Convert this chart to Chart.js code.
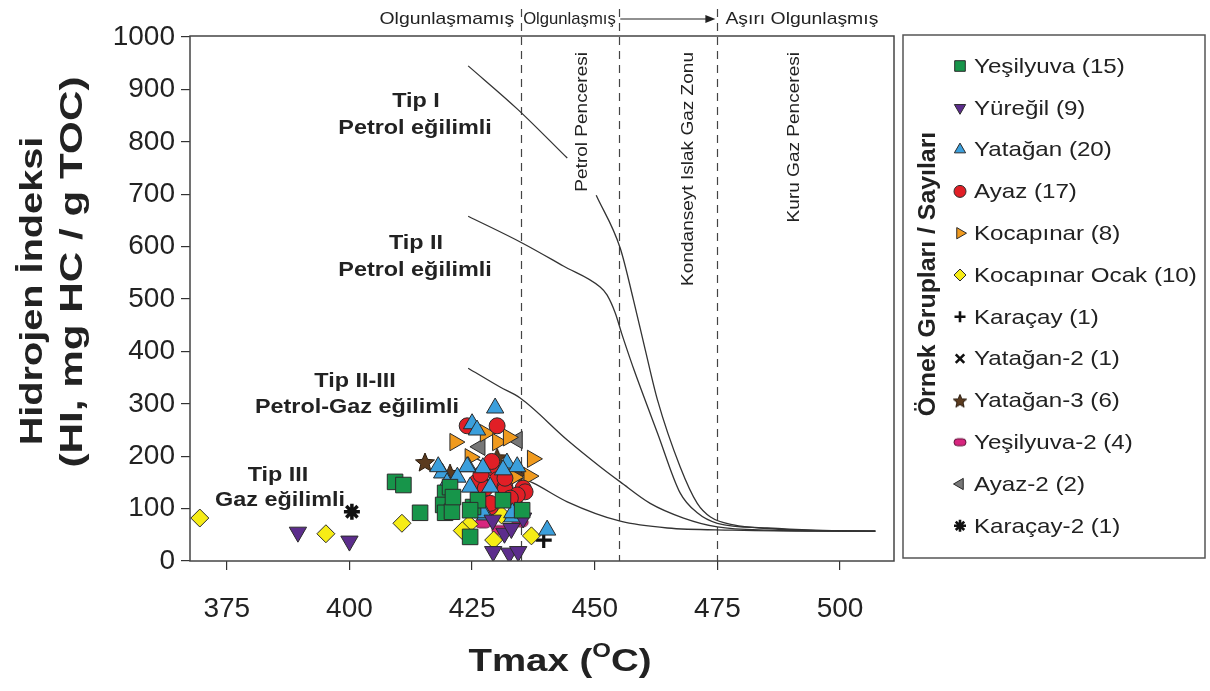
<!DOCTYPE html>
<html>
<head>
<meta charset="utf-8">
<script src="https://cdn.jsdelivr.net/npm/chart.js@4.4.1/dist/chart.umd.min.js"></script>
<style>
  html, body { margin: 0; padding: 0; background: #fff; }
  #wrap { width: 1210px; height: 691px; position: relative; }
</style>
</head>
<body>
<div id="wrap"><canvas id="hiChart"></canvas></div>
<script>
// ---- data ----
const xTicks = [375, 400, 425, 450, 475, 500];
const yTicks = [0, 100, 200, 300, 400, 500, 600, 700, 800, 900, 1000];
const zoneLines = [435, 455, 475];

const yesilyuvaTmax = [409.3, 411.0, 414.4, 419.5, 420.5, 419.1, 419.5, 420.9, 424.6, 425.2, 426.2, 421.1, 424.6, 431.3, 435.2];
const yesilyuvaHI   = [151, 145, 92, 130, 141, 107, 92, 94, 46, 103, 116, 122, 97, 116, 97];
const yuregilTmax = [389.5, 400.0, 429.3, 432.6, 434.4, 431.6, 435.4, 429.2, 433.0];
const yuregilHI   = [55, 38, 18, 15, 18, 53, 82, 78, 62];
const yataganTmax = [429.7, 425.0, 418.9, 418.1, 419.9, 424.2, 427.2, 424.6, 427.7, 432.1, 434.2, 433.2, 440.3, 426.0, 431.3, 428.7, 427.2, 433.2, 424.0, 422.0];
const yataganHI   = [292, 262, 168, 180, 149, 180, 178, 141, 88, 187, 180, 84, 59, 250, 174, 141, 92, 92, 180, 160];
const ayazTmax = [424.0, 430.1, 429.7, 430.1, 426.0, 431.7, 428.7, 431.7, 435.4, 428.7, 435.8, 431.7, 427.7, 434.2, 429.0, 432.8, 426.8];
const ayazHI   = [258, 258, 174, 155, 151, 141, 103, 136, 139, 110, 132, 158, 139, 126, 190, 120, 165];
const kocapinarTmax = [421.5, 424.6, 427.7, 430.2, 432.4, 437.3, 436.6, 433.5];
const kocapinarHI   = [227, 198, 244, 227, 236, 195, 162, 160];
const ocakTmax = [369.5, 395.2, 410.7, 424.4, 429.4, 433.4, 437.1, 427.5, 431.0, 423.0];
const ocakHI   = [82, 52, 72, 70, 40, 113, 48, 96, 88, 58];
const karacayTmax = [439.6];
const karacayHI   = [40];
const yatagan2Tmax = [430.5];
const yatagan2HI   = [148];
const yatagan3Tmax = [415.4, 420.5, 430.1, 427.2, 430.3, 434.2];
const yatagan3HI   = [189, 168, 198, 151, 151, 164];
const yesilyuva2Tmax = [426.6, 427.2, 430.7, 434.8];
const yesilyuva2HI   = [122, 72, 59, 74];
const ayaz2Tmax = [426.6, 434.2];
const ayaz2HI   = [218, 231];
const karacay2Tmax = [400.5];
const karacay2HI   = [94];

// kerogen type boundary curves (null = gap behind the label)
const typeITmax = [424.2, 434.3, 444.4, 447.0, 450.3, 455.2, 457.9, 460.3, 462.8, 467.4, 470.9, 473.6, 478.3, 485.0, 495.0, 507.2];
const typeIHI   = [945, 862, 769, null, 698, 597, 498, 403, 307, 180, 110, 84, 69, 62, 58, 57];
const typeIITmax = [424.2, 435.2, 443.6, 451.1, 452.5, 454.2, 455.5, 456.6, 458.0, 462.8, 467.4, 470.9, 475.0, 485.2, 495.0, 507.2];
const typeIIHI   = [658, 607, 563, 523, 508, 473, 434, 403, 365, 244, 130, 92, 72, 63, 59, 57];
const typeIIIIITmax = [424.2, 430.7, 434.8, 444.4, 451.1, 455.2, 461.3, 468.1, 475.0, 485.0, 507.2];
const typeIIIIIHI   = [368, 332, 311, 231, 180, 151, 110, 82, 65, 59, 57];
const typeIIITmax = [426.0, 431.0, 437.4, 444.4, 455.2, 464.8, 478.0, 495.0, 507.2];
const typeIIIHI   = [195, 172, 149, 113, 76, 63, 59, 57, 57];

const pts = (xs, ys) => xs.map((x, i) => ({ x: x, y: ys[i] }));

const FONT = '"Liberation Sans", Arial, Helvetica, sans-serif';
const EDGE = '#2b2b2b';
const INK = '#222';

// custom marker images
function starImage(r, fill) {
    const c = document.createElement('canvas');
    const s = Math.ceil(r * 2 + 4);
    c.width = s; c.height = s;
    const g = c.getContext('2d');
    g.beginPath();
    for (let i = 0; i < 10; i++) {
        const rr = i % 2 === 0 ? r : r * 0.45;
        const a = -Math.PI / 2 + i * Math.PI / 5;
        const px = s / 2 + rr * Math.cos(a), py = s / 2 + 1 + rr * Math.sin(a);
        if (i === 0) g.moveTo(px, py); else g.lineTo(px, py);
    }
    g.closePath();
    g.fillStyle = fill; g.fill();
    g.lineWidth = 1; g.strokeStyle = '#2a1c0e'; g.stroke();
    return c;
}
function pillImage(w, h, fill) {
    const c = document.createElement('canvas');
    c.width = w + 4; c.height = h + 4;
    const g = c.getContext('2d');
    g.beginPath();
    g.roundRect(2, 2, w, h, h / 2);
    g.fillStyle = fill; g.fill();
    g.lineWidth = 1; g.strokeStyle = '#5a1035'; g.stroke();
    return c;
}

const series = [
    { label: 'Yeşilyuva (15)', data: pts(yesilyuvaTmax, yesilyuvaHI), style: 'rect', color: '#17954a', r: 11, lr: 7.5, rot: 0 },
    { label: 'Yüreğil (9)', data: pts(yuregilTmax, yuregilHI), style: 'triangle', color: '#5c2d8c', r: 10, lr: 6.5, rot: 180 },
    { label: 'Yatağan (20)', data: pts(yataganTmax, yataganHI), style: 'triangle', color: '#3b9fdc', r: 10, lr: 6.5, rot: 0 },
    { label: 'Ayaz (17)', data: pts(ayazTmax, ayazHI), style: 'circle', color: '#e11f26', r: 8, lr: 6, rot: 0 },
    { label: 'Kocapınar (8)', data: pts(kocapinarTmax, kocapinarHI), style: 'triangle', color: '#f09a1e', r: 10, lr: 6.5, rot: 90 },
    { label: 'Kocapınar Ocak (10)', data: pts(ocakTmax, ocakHI), style: 'rectRot', color: '#f6ec16', r: 9, lr: 6, rot: 0 },
    { label: 'Karaçay (1)', data: pts(karacayTmax, karacayHI), style: 'cross', color: '#111', r: 8, lr: 5.5, rot: 0, bw: 3.2 },
    { label: 'Yatağan-2 (1)', data: pts(yatagan2Tmax, yatagan2HI), style: 'crossRot', color: '#111', r: 8, lr: 6, rot: 0, bw: 3.2 },
    { label: 'Yatağan-3 (6)', data: pts(yatagan3Tmax, yatagan3HI), style: starImage(10, '#5b3b1f'), legendStyle: starImage(7, '#5b3b1f'), color: '#5b3b1f', r: 10, lr: 7, rot: 0 },
    { label: 'Yeşilyuva-2 (4)', data: pts(yesilyuva2Tmax, yesilyuva2HI), style: pillImage(16, 9, '#d8257f'), legendStyle: pillImage(12, 7, '#d8257f'), color: '#d8257f', r: 9, lr: 6, rot: 0 },
    { label: 'Ayaz-2 (2)', data: pts(ayaz2Tmax, ayaz2HI), style: 'triangle', color: '#777', r: 10, lr: 6.5, rot: -90 },
    { label: 'Karaçay-2 (1)', data: pts(karacay2Tmax, karacay2HI), style: 'star', color: '#111', r: 8, lr: 6, rot: 0, bw: 3.5 }
];

const scatterSets = series.map(s => ({
    label: s.label,
    data: s.data,
    pointStyle: s.style,
    pointRadius: s.r,
    pointRotation: s.rot,
    backgroundColor: s.color,
    borderColor: s.bw ? s.color : EDGE,
    pointBorderWidth: s.bw || 1,
    showLine: false
}));

const curve = (xs, ys) => ({
    data: pts(xs, ys),
    showLine: true,
    borderColor: '#333',
    borderWidth: 1.3,
    pointRadius: 0,
    spanGaps: false,
    cubicInterpolationMode: 'monotone'
});
const curveSets = [
    curve(typeITmax, typeIHI),
    curve(typeIITmax, typeIIHI),
    curve(typeIIIIITmax, typeIIIIIHI),
    curve(typeIIITmax, typeIIIHI)
];

// the figure's lettering is a bit wider than Liberation Sans, so stretch it
function txt(ctx, s, x, y, font, align, sx, rot) {
    ctx.save();
    ctx.translate(x, y);
    if (rot) ctx.rotate(rot);
    ctx.scale(sx, 1);
    ctx.font = font;
    ctx.textAlign = align;
    ctx.textBaseline = 'middle';
    ctx.fillText(s, 0, 0);
    ctx.restore();
}

const decor = {
    id: 'decor',
    beforeDatasetsDraw(chart) {
        const { ctx, chartArea: a, scales: { x } } = chart;
        ctx.save();
        ctx.strokeStyle = '#444';
        ctx.lineWidth = 1.2;
        ctx.setLineDash([8, 6]);
        zoneLines.forEach(v => {
            const px = Math.round(x.getPixelForValue(v)) + 0.5;
            ctx.beginPath();
            ctx.moveTo(px, 9);
            ctx.lineTo(px, a.bottom);
            ctx.stroke();
        });
        ctx.restore();

        ctx.save();
        ctx.fillStyle = INK;
        const bold = 'bold 20px ' + FONT;
        [['Tip I', 416, 101], ['Petrol eğilimli', 415, 128],
         ['Tip II', 416, 243], ['Petrol eğilimli', 415, 270],
         ['Tip II-III', 355, 381], ['Petrol-Gaz eğilimli', 357, 407],
         ['Tip III', 278, 475], ['Gaz eğilimli', 280, 500]].forEach(t => txt(ctx, t[0], t[1], t[2], bold, 'center', 1.17));

        [['Petrol Penceresi', 582], ['Kondanseyt Islak Gaz Zonu', 688], ['Kuru Gaz Penceresi', 794]].forEach(t =>
            txt(ctx, t[0], t[1], 52, '17px ' + FONT, 'right', 1.12, -Math.PI / 2));
        ctx.restore();
    },
    afterDraw(chart) {
        const { ctx, chartArea: a, scales: { x } } = chart;
        ctx.save();
        ctx.strokeStyle = '#444';
        ctx.lineWidth = 1.5;
        ctx.strokeRect(a.left, a.top, a.right - a.left, a.bottom - a.top);

        // maturity labels on top
        ctx.fillStyle = INK;
        const reg = '17px ' + FONT;
        const l1 = x.getPixelForValue(435), l2 = x.getPixelForValue(455), l3 = x.getPixelForValue(475);
        txt(ctx, 'Olgunlaşmamış', l1 - 7, 19, reg, 'right', 1.14);
        txt(ctx, 'Olgunlaşmış', l1 + 2, 19, reg, 'left', 0.98);
        txt(ctx, 'Aşırı Olgunlaşmış', l3 + 8, 19, reg, 'left', 1.14);
        ctx.strokeStyle = INK;
        ctx.lineWidth = 1.2;
        ctx.beginPath();
        ctx.moveTo(l2 + 1, 19);
        ctx.lineTo(l3 - 10, 19);
        ctx.stroke();
        ctx.beginPath();
        ctx.moveTo(l3 - 2, 19);
        ctx.lineTo(l3 - 12, 15);
        ctx.lineTo(l3 - 12, 23);
        ctx.closePath();
        ctx.fill();

        // axis titles
        const ttl = 'bold 32px ' + FONT;
        txt(ctx, 'Hidrojen İndeksi', 33, 291, ttl, 'center', 1.24, -Math.PI / 2);
        txt(ctx, '(HI, mg HC / g TOC)', 73, 272, ttl, 'center', 1.32, -Math.PI / 2);

        const big = 'bold 32px ' + FONT, small = 'bold 20px ' + FONT, sx = 1.2;
        ctx.font = big;
        const w1 = ctx.measureText('Tmax (').width * sx, w3 = ctx.measureText('C)').width * sx;
        ctx.font = small;
        const w2 = ctx.measureText('O').width * sx;
        const x0 = 560 - (w1 + w2 + w3) / 2;
        txt(ctx, 'Tmax (', x0, 662, big, 'left', sx);
        txt(ctx, 'O', x0 + w1, 651, small, 'left', sx);
        txt(ctx, 'C)', x0 + w1 + w2, 662, big, 'left', sx);

        // legend box
        ctx.strokeStyle = '#555';
        ctx.lineWidth = 1.5;
        ctx.strokeRect(903, 35, 302, 523);
        txt(ctx, 'Örnek Grupları / Sayıları', 929, 274, 'bold 23px ' + FONT, 'center', 1.08, -Math.PI / 2);

        series.forEach((s, i) => {
            const yy = 66 + i * 41.8;
            ctx.fillStyle = s.color;
            ctx.strokeStyle = s.bw ? s.color : EDGE;
            ctx.lineWidth = s.bw ? 2.6 : 1;
            Chart.helpers.drawPoint(ctx, {
                pointStyle: s.legendStyle || s.style,
                radius: s.lr,
                rotation: s.rot,
                borderWidth: s.bw ? 2.6 : 1
            }, 960, yy);
            ctx.fillStyle = INK;
            txt(ctx, s.label, 974, yy + 1, '21px ' + FONT, 'left', 1.15);
        });
        ctx.restore();
    }
};

new Chart(document.getElementById('hiChart'), {
    type: 'scatter',
    data: { datasets: scatterSets.concat(curveSets) },
    options: {
        responsive: true,
        maintainAspectRatio: false,
        animation: false,
        layout: { padding: { top: 36, right: 316, left: 0, bottom: 0 } },
        plugins: { legend: { display: false }, tooltip: { enabled: false } },
        scales: {
            x: {
                type: 'linear',
                min: 367.5,
                max: 511,
                afterBuildTicks: s => { s.ticks = xTicks.map(v => ({ value: v })); },
                afterFit: s => { s.height = 130; },
                grid: { drawOnChartArea: false, drawTicks: true, tickLength: 9, color: '#333', lineWidth: 1.2 },
                border: { display: false },
                ticks: { color: INK, font: { size: 28, family: FONT }, padding: 22, callback: v => String(v) }
            },
            y: {
                type: 'linear',
                min: 0,
                max: 1002,
                afterBuildTicks: s => { s.ticks = yTicks.map(v => ({ value: v })); },
                afterFit: s => { s.width = 190; },
                grid: { drawOnChartArea: false, drawTicks: true, tickLength: 9, color: '#333', lineWidth: 1.2 },
                border: { display: false },
                ticks: { color: INK, font: { size: 28, family: FONT }, padding: 6, callback: v => String(v) }
            }
        }
    },
    plugins: [decor]
});
</script>
</body>
</html>
